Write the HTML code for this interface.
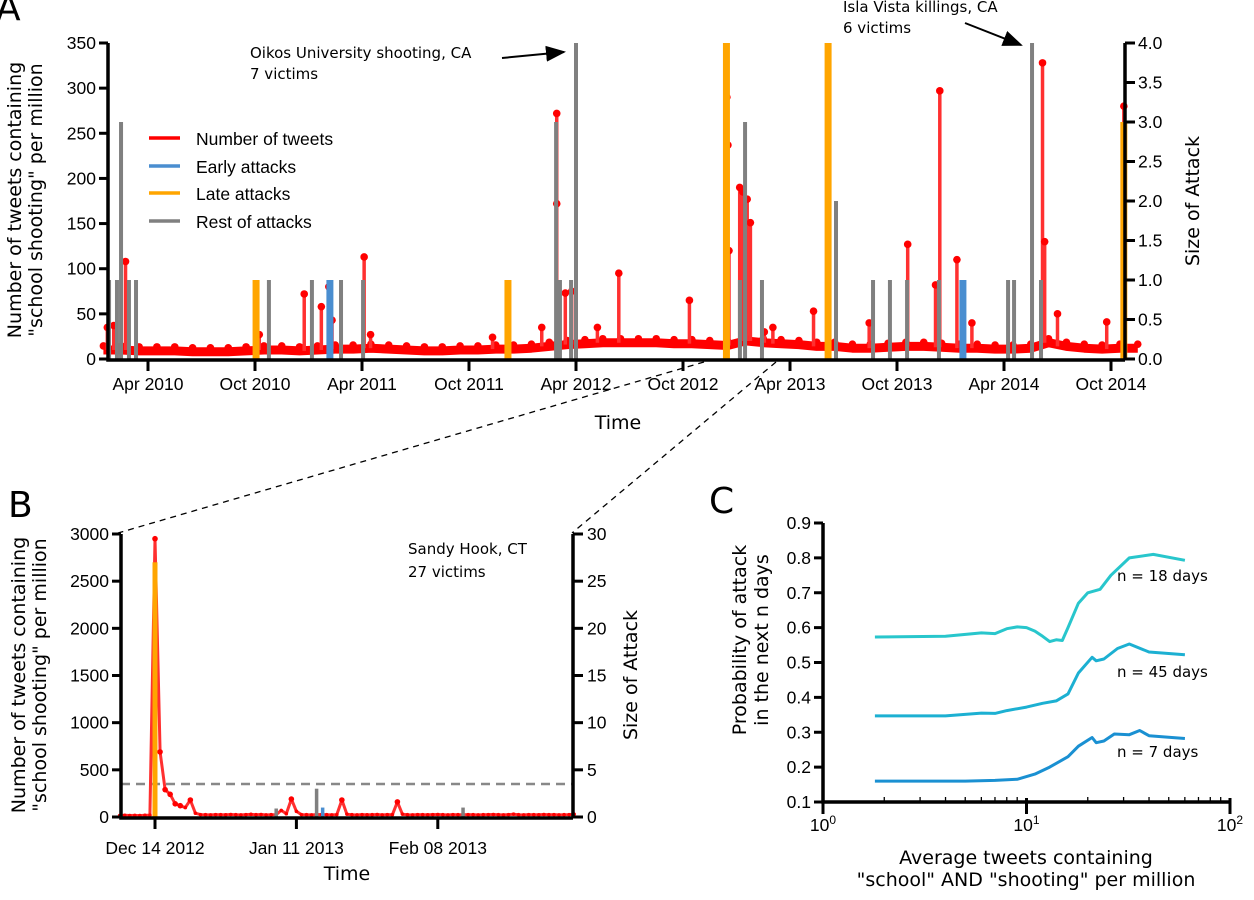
<!DOCTYPE html>
<html><head><meta charset="utf-8"><style>
html,body{margin:0;padding:0;background:#fff;width:1254px;height:900px;overflow:hidden}
svg{display:block}
.tk{font-family:"Liberation Sans",sans-serif;font-size:17.5px;fill:#000}
.lb{font-family:"DejaVu Sans","Liberation Sans",sans-serif;font-size:19px;fill:#000}
.an{font-family:"DejaVu Sans","Liberation Sans",sans-serif;font-size:15px;fill:#000}
</style></head><body>
<svg id="fig" width="1254" height="900" viewBox="0 0 1254 900">
<text x="-4" y="20" font-family="DejaVu Sans,sans-serif" font-size="36">A</text>
<text x="8" y="517" font-family="DejaVu Sans,sans-serif" font-size="36">B</text>
<text x="709" y="513" font-family="DejaVu Sans,sans-serif" font-size="36">C</text>
<g id="gA"></g>
<g id="gB"></g>
<g id="gC"></g>
<line x1="704" y1="362" x2="118" y2="533" stroke="#000" stroke-width="1.3" stroke-dasharray="6,5"/>
<line x1="776" y1="362" x2="572" y2="533" stroke="#000" stroke-width="1.3" stroke-dasharray="6,5"/>
</svg>
<script>
// ---------- Panel A data ----------
const aBaseStart = 2010.0; // monthly baseline start (decimal year)
const aBaseline = [10,10,9,9,9,8,8,8,9,10,10,9, 10,11,11,12,11,10,9,9,10,10,11,11, 12,14,16,17,18,18,18,18,17,17,16,15, 20,18,17,16,14,14,12,12,13,14,14,13, 12,12,11,11,12,18,14,12,11,12,12];
const aSpikeDates = [2010.06,2010.09,2010.145,2010.77,2010.98,2011.06,2011.095,2011.11,2011.26,2011.29,2011.86,2012.09,2012.16,2012.16,2012.2,2012.23,2012.35,2012.45,2012.78,2012.955,2012.96,2012.965,2013.015,2013.03,2013.05,2013.065,2013.13,2013.17,2013.36,2013.62,2013.8,2013.93,2013.95,2014.03,2014.1,2014.43,2014.44,2014.5,2014.73,2014.81];
const aSpikeValues = [35,37,108,27,72,58,80,43,113,27,24,35,272,172,73,75,35,95,65,290,237,120,190,185,177,151,30,35,53,40,127,82,297,110,40,328,130,50,41,280];
const aTickLabels = ["Apr 2010","Oct 2010","Apr 2011","Oct 2011","Apr 2012","Oct 2012","Apr 2013","Oct 2013","Apr 2014","Oct 2014"];
const aTickDates = [2010.25,2010.75,2011.25,2011.75,2012.25,2012.75,2013.25,2013.75,2014.25,2014.75];
const aLeftTicks = [0,50,100,150,200,250,300,350];
const aRightTicks = [0,0.5,1,1.5,2,2.5,3,3.5,4];
const attackDates = [2010.068,2010.105,2010.124,2010.161,2010.194,2010.755,2010.815,2011.016,2011.10,2011.152,2011.255,2011.932,2012.157,2012.175,2012.227,2012.25,2012.953,2013.016,2013.04,2013.119,2013.428,2013.465,2013.638,2013.717,2013.797,2013.946,2014.058,2014.269,2014.297,2014.381,2014.423,2014.81];
const attackSizes = [1,1,3,1,1,1,1,1,1,1,1,1,3,1,1,4,4,1,3,1,4,2,1,1,1,1,1,1,1,4,1,3];
const attackTypes = ["r","r","r","r","r","l","r","r","e","r","r","l","r","r","r","r","l","r","r","r","l","r","r","r","r","r","e","r","r","r","r","l"];
// ---------- Panel B data ----------
const bStartDay = -7; // days relative to Dec 14 2012
const bTweets = [15,18,16,17,15,18,20,2950,690,290,240,140,120,100,180,40,25,24,22,25,24,23,26,24,22,25,28,24,26,22,24,25,70,35,190,60,25,24,22,25,26,24,22,25,180,30,24,22,25,23,24,26,22,25,24,160,30,24,22,25,24,23,25,26,24,22,25,24,23,25,24,22,24,25,26,24,22,25,30,24,22,25,24,23,26,24,25,22,24,25,30];
const bAttackDays = [0,24,32,33,61];
const bAttackSizes = [27,0.9,3,1,1];
const bAttackTypes = ["l","r","r","e","r"];
const bThreshold = 350;
const bLeftTicks = [0,500,1000,1500,2000,2500,3000];
const bRightTicks = [0,5,10,15,20,25,30];
const bTickLabels = ["Dec 14 2012","Jan 11 2013","Feb 08 2013"];
const bTickDays = [0,28,56];
// ---------- Panel C data ----------
const cX18 = [1.8,4,6,7,8,9,10,11,12,13,14,15,16,18,20,23,26,32,42,60];
const cY18 = [0.573,0.575,0.585,0.583,0.597,0.602,0.600,0.59,0.575,0.56,0.565,0.563,0.6,0.67,0.70,0.71,0.75,0.80,0.81,0.793];
const cX45 = [1.8,4,6,7,8,10,12,14,16,18,21,22,24,28,32,40,60];
const cY45 = [0.347,0.347,0.355,0.354,0.362,0.372,0.383,0.39,0.41,0.47,0.515,0.505,0.51,0.54,0.553,0.53,0.522];
const cX7 = [1.8,5,7,9,11,13,16,18,21,22,24,27,32,36,40,60];
const cY7 = [0.16,0.16,0.162,0.165,0.18,0.2,0.23,0.26,0.285,0.27,0.275,0.295,0.293,0.305,0.29,0.282];
const cYTicks = [0.1,0.2,0.3,0.4,0.5,0.6,0.7,0.8,0.9];
const cXTickExps = [0,1,2];

const NS="http://www.w3.org/2000/svg";
function el(tag,attrs,parent){const e=document.createElementNS(NS,tag);for(const k in attrs)e.setAttribute(k,attrs[k]);parent.appendChild(e);return e;}
const COL={r:"#808080",e:"#4a8ed0",l:"#ffa500"};

// ================= Panel A =================
(function(){
const g=document.getElementById('gA');
const X0=108,X1=1125,Y0=359,Y1=43;
const x=d=>148+(d-2010.25)*214;
const yl=v=>Y0-(v/350)*(Y0-Y1);
const yr=v=>Y0-(v/4)*(Y0-Y1);
let pts=aBaseline.map((v,i)=>x(aBaseStart+(i+0.5)/12).toFixed(1)+","+yl(v).toFixed(1));
const bl=el('polyline',{points:pts.join(' '),fill:'none',stroke:'#ff0000','stroke-width':9,'stroke-linejoin':'round'},g);


aBaseline.forEach((v,i)=>{const c=el('circle',{cx:x(aBaseStart+(i+0.5)/12),cy:yl(v)-4,r:3.8,fill:'#ff0000'},g);

});
aSpikeDates.forEach((d,i)=>{
 const base=aBaseline[Math.min(aBaseline.length-1,Math.floor((d-aBaseStart)*12))];
 const ln=el('line',{x1:x(d),x2:x(d),y1:yl(base),y2:yl(aSpikeValues[i]),stroke:'#ff3030','stroke-width':3.5},g);
 
 
 const c=el('circle',{cx:x(d),cy:yl(aSpikeValues[i]),r:3.8,fill:'#ff0000'},g);
 
 
});
attackDates.forEach((d,i)=>{
 const t=attackTypes[i];const w=t==="r"?4:7;
 const r=el('rect',{x:x(d)-w/2,y:yr(attackSizes[i]),width:w,height:Y0-yr(attackSizes[i]),fill:COL[t]},g);
 
 
});
const ax=el('path',{d:`M${X0},${Y1} V${Y0+1} H${X1} M${X1},${Y1} V${Y0+1}`,stroke:'#000','stroke-width':3.5,fill:'none'},g);


aLeftTicks.forEach(v=>{el('line',{x1:X0-9,x2:X0,y1:yl(v),y2:yl(v),stroke:'#000','stroke-width':3},g);
 const t=el('text',{x:X0-12,y:yl(v)+6,'text-anchor':'end',class:'tk'},g);t.textContent=v;
 
 });
aRightTicks.forEach(v=>{el('line',{x1:X1,x2:X1+10,y1:yr(v),y2:yr(v),stroke:'#000','stroke-width':3},g);
 const t=el('text',{x:X1+13,y:yr(v)+6,class:'tk'},g);t.textContent=v.toFixed(1);
 
 });
aTickDates.forEach((d,i)=>{el('line',{x1:x(d),x2:x(d),y1:Y0,y2:Y0+12,stroke:'#000','stroke-width':3},g);
 const t=el('text',{x:x(d),y:390,'text-anchor':'middle',class:'tk'},g);t.textContent=aTickLabels[i];
 
 });
})();
</script>
<script>
// ================= Panel B =================
(function(){
const g=document.getElementById('gB');
const X0=121,X1=573,Y0=817,Y1=534;
const x=d=>155+d*5.05;
const yl=v=>Y0-(v/3000)*(Y0-Y1);
const yr=v=>Y0-(v/30)*(Y0-Y1);
const th=el('line',{x1:X0,x2:X1,y1:yl(bThreshold),y2:yl(bThreshold),stroke:'#888','stroke-width':2.5,'stroke-dasharray':'9,6'},g);


const pts=bTweets.map((v,i)=>x(bStartDay+i).toFixed(1)+","+yl(v).toFixed(1));
const pl=el('polyline',{points:pts.join(' '),fill:'none',stroke:'#ff3030','stroke-width':3,'stroke-linejoin':'round'},g);


bTweets.forEach((v,i)=>{const c=el('circle',{cx:x(bStartDay+i),cy:yl(v),r:v>100?2.8:1.8,fill:'#ff0000'},g);
 
 });
bAttackDays.forEach((d,i)=>{const t=bAttackTypes[i];const w=t==="l"?5:3.5;
 const r=el('rect',{x:x(d)-w/2+(t==="e"?1:0),y:yr(bAttackSizes[i]),width:w,height:Y0-yr(bAttackSizes[i]),fill:COL[t]},g);
 
 });
const ax=el('path',{d:`M${X0},${Y1} V${Y0+1} H${X1} M${X1},${Y1} V${Y0+1}`,stroke:'#000','stroke-width':3.5,fill:'none'},g);


bLeftTicks.forEach(v=>{el('line',{x1:X0-9,x2:X0,y1:yl(v),y2:yl(v),stroke:'#000','stroke-width':3},g);
 const t=el('text',{x:X0-12,y:yl(v)+6,'text-anchor':'end',class:'tk'},g);t.textContent=v;
 
 });
bRightTicks.forEach(v=>{el('line',{x1:X1,x2:X1+10,y1:yr(v),y2:yr(v),stroke:'#000','stroke-width':3},g);
 const t=el('text',{x:X1+14,y:yr(v)+6,class:'tk'},g);t.textContent=v;
 
 });
bTickDays.forEach((d,i)=>{el('line',{x1:x(d),x2:x(d),y1:Y0,y2:Y0+12,stroke:'#000','stroke-width':3},g);
 const t=el('text',{x:x(d),y:854,'text-anchor':'middle',class:'tk'},g);t.textContent=bTickLabels[i];
 
 });
})();
// ================= Panel C =================
(function(){
const g=document.getElementById('gC');
const X0=823,X1=1230,Y0=802,Y1=523;
const x=v=>X0+Math.log10(v)*((X1-X0)/2);
const y=v=>Y0-((v-0.1)/0.8)*(Y0-Y1);
[[cX18,cY18,'#28c6cc','curve-18-days'],[cX45,cY45,'#1cb0d2','curve-45-days'],[cX7,cY7,'#1a90d2','curve-7-days']].forEach(s=>{
 const p=el('polyline',{points:s[0].map((v,i)=>x(v).toFixed(1)+","+y(s[1][i]).toFixed(1)).join(' '),fill:'none',stroke:s[2],'stroke-width':3,'stroke-linejoin':'round'},g);
 
 
});
const ax=el('path',{d:`M${X0},${Y1} V${Y0} H${X1}`,stroke:'#000','stroke-width':3.5,fill:'none'},g);


cYTicks.forEach(v=>{el('line',{x1:X0-9,x2:X0,y1:y(v),y2:y(v),stroke:'#000','stroke-width':3},g);
 const t=el('text',{x:X0-12,y:y(v)+6,'text-anchor':'end',class:'tk'},g);t.textContent=v.toFixed(1);
 
 });
cXTickExps.forEach(e=>{const xx=x(Math.pow(10,e));
 el('line',{x1:xx,x2:xx,y1:Y0-4,y2:Y0+12,stroke:'#000','stroke-width':3},g);
 const t=el('text',{x:xx,y:831,'text-anchor':'middle',class:'tk'},g);
 t.textContent='10';const s=el('tspan',{dy:-7,'font-size':12},t);s.textContent=e;
 
 
 if(e<2)for(let k=2;k<10;k++){const mx=x(k*Math.pow(10,e));el('line',{x1:mx,x2:mx,y1:Y0-5,y2:Y0,stroke:'#000','stroke-width':1.3},g);}
});
})();
</script>
<svg style="position:absolute;left:0;top:0" width="1254" height="900">
<defs><marker id="ah" markerWidth="10" markerHeight="8" refX="9" refY="4" orient="auto"><path d="M0,0 L10,4 L0,8 z" fill="#000"/></marker></defs>
<g>
<text class="lb" transform="translate(21,200) rotate(-90)" text-anchor="middle">Number of tweets containing</text>
<text class="lb" transform="translate(42,200) rotate(-90)" text-anchor="middle">"school shooting" per million</text>
<text class="lb" transform="translate(1199,201) rotate(-90)" text-anchor="middle">Size of Attack</text>
<text class="lb" x="618" y="429" text-anchor="middle">Time</text>
<line x1="149" y1="138" x2="180" y2="138" stroke="#ff0000" stroke-width="3.5"/>
<line x1="149" y1="166" x2="180" y2="166" stroke="#4a8ed0" stroke-width="3.5"/>
<line x1="149" y1="193" x2="180" y2="193" stroke="#ffa500" stroke-width="3.5"/>
<line x1="149" y1="221" x2="180" y2="221" stroke="#808080" stroke-width="3.5"/>
<text class="tk" x="196" y="145">Number of tweets</text>
<text class="tk" x="196" y="173">Early attacks</text>
<text class="tk" x="196" y="200">Late attacks</text>
<text class="tk" x="196" y="228">Rest of attacks</text>
<text class="an" x="250" y="58">Oikos University shooting, CA</text>
<text class="an" x="250" y="79">7 victims</text>
<line x1="502" y1="58" x2="564" y2="52" stroke="#000" stroke-width="2" marker-end="url(#ah)"/>
<text class="an" x="843" y="12">Isla Vista killings, CA</text>
<text class="an" x="843" y="33">6 victims</text>
<line x1="965" y1="23" x2="1021" y2="45" stroke="#000" stroke-width="2" marker-end="url(#ah)"/>
</g>
<g>
<text class="lb" transform="translate(25,675) rotate(-90)" text-anchor="middle">Number of tweets containing</text>
<text class="lb" transform="translate(46,675) rotate(-90)" text-anchor="middle">"school shooting" per million</text>
<text class="lb" transform="translate(637,675) rotate(-90)" text-anchor="middle">Size of Attack</text>
<text class="lb" x="347" y="880" text-anchor="middle">Time</text>
<text class="an" x="408" y="554" font-size="17">Sandy Hook, CT</text>
<text class="an" x="408" y="577" font-size="17">27 victims</text>
</g>
<g>
<text class="lb" transform="translate(746,640) rotate(-90)" text-anchor="middle">Probability of attack</text>
<text class="lb" transform="translate(768,640) rotate(-90)" text-anchor="middle">in the next n days</text>
<text class="lb" x="1026" y="864" text-anchor="middle">Average tweets containing</text>
<text class="lb" x="1026" y="886" text-anchor="middle">"school" AND "shooting" per million</text>
<text class="an" x="1117" y="581">n = 18 days</text>
<text class="an" x="1117" y="677">n = 45 days</text>
<text class="an" x="1117" y="757">n = 7 days</text>
</g>
</svg>
</body></html>
